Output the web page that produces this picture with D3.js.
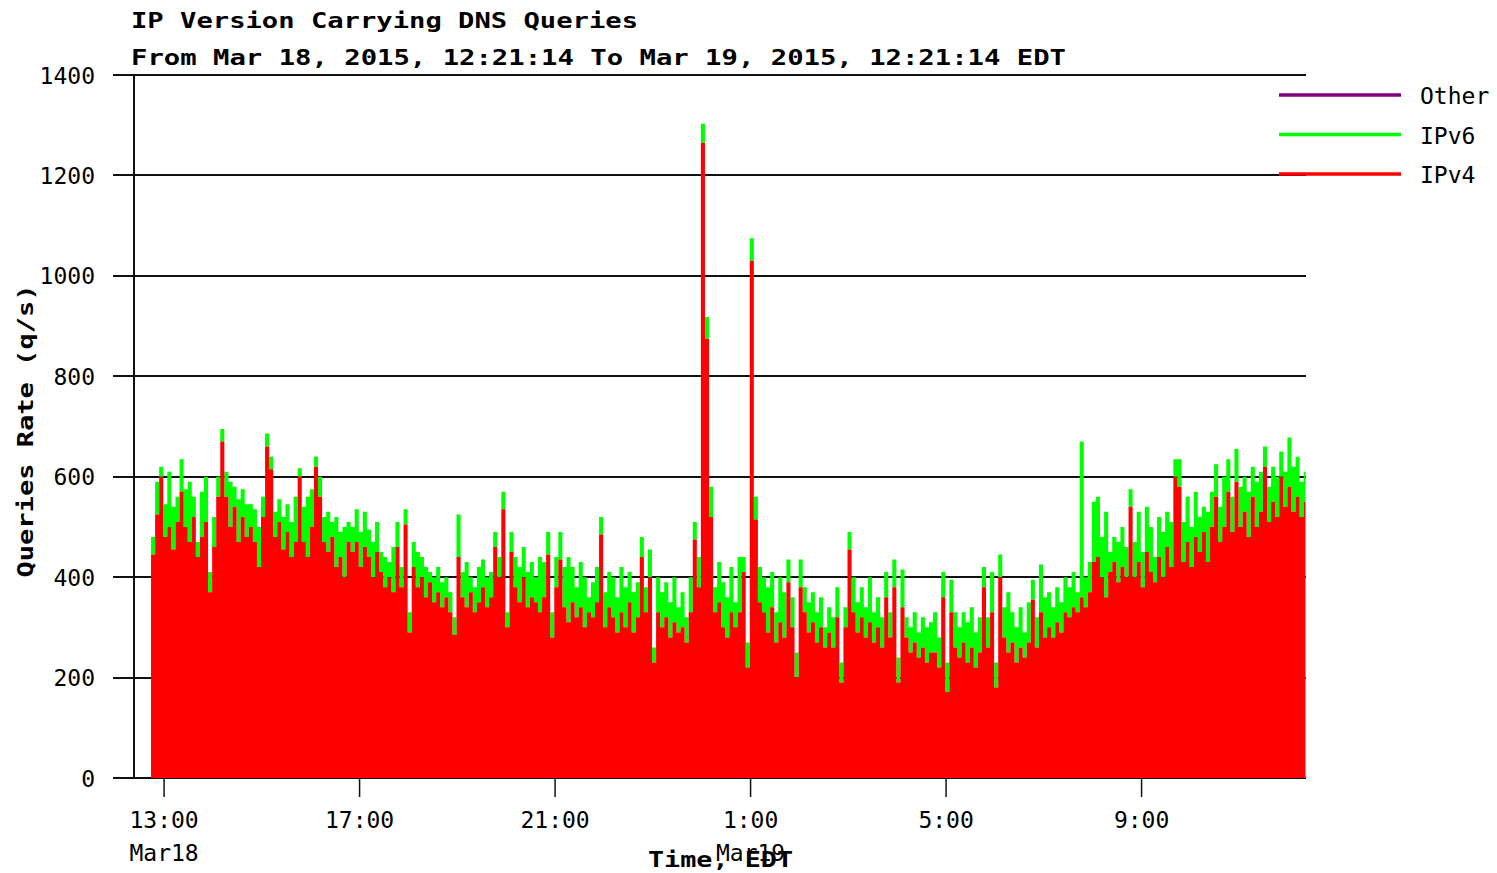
<!DOCTYPE html>
<html><head><meta charset="utf-8">
<script src="https://cdn.jsdelivr.net/npm/d3@7"></script>
<style>
body{margin:0;background:#fff}
svg{display:block}
text{font-family:"DejaVu Sans Mono","Liberation Mono",monospace;fill:#000}
</style>
</head><body>
<svg id="chart" width="1497" height="873"></svg>
<script>
// ---------- data ----------
const titleLines = ["IP Version Carrying DNS Queries", "From Mar 18, 2015, 12:21:14 To Mar 19, 2015, 12:21:14 EDT"];
const yAxisTitle = "Queries Rate (q/s)";
const xAxisTitle = "Time, EDT";
const rangeStart = new Date(2015, 2, 18, 12, 21, 14);
const rangeEnd = new Date(2015, 2, 19, 12, 21, 14);
const firstSample = new Date(2015, 2, 18, 12, 44, 0);
const stepMinutes = 5;

// IPv4 queries/s (5-minute samples)
const ipv4 = [
  445,525,600,480,500,455,510,570,500,470,520,440,
  480,510,370,460,560,670,560,500,540,470,520,480,
  500,470,420,520,660,615,480,510,455,490,440,470,
  600,470,440,500,620,560,470,450,480,420,440,400,
  470,450,470,420,460,440,400,450,410,380,400,370,
  460,380,505,290,420,380,400,360,390,350,370,340,
  360,330,285,440,360,340,370,330,350,380,340,360,
  460,400,535,300,450,380,350,400,340,360,350,330,
  360,445,280,380,435,340,310,350,320,340,300,330,
  320,350,485,300,340,320,290,330,300,350,290,320,
  440,330,400,230,330,300,320,280,310,290,300,270,
  330,475,380,1265,875,520,330,350,300,280,330,300,
  330,410,220,1030,515,350,330,290,340,270,310,280,
  390,300,200,380,330,290,310,270,300,260,290,260,
  320,190,300,455,330,290,320,280,310,270,300,260,
  360,280,380,190,340,280,250,270,240,260,230,250,
  250,220,360,172,330,260,240,270,230,260,220,250,
  380,260,330,180,400,280,250,270,230,260,240,270,
  355,260,330,280,300,280,310,290,330,320,340,330,
  360,340,370,430,440,400,360,410,430,390,420,400,
  540,400,430,380,450,410,390,440,400,460,420,600,
  580,430,470,420,480,450,490,430,500,560,470,500,
  570,490,590,500,530,480,560,500,530,620,510,550,
  520,600,540,580,530,560,520,550
];
// IPv6 queries/s, stacked on IPv4
const ipv6 = [
  35,65,20,65,110,85,50,65,75,120,40,30,
  90,90,40,60,40,25,50,90,40,85,55,65,
  45,65,80,40,26,25,50,45,65,55,70,90,
  17,70,120,75,20,40,50,80,30,100,50,100,
  40,50,65,70,70,55,70,60,40,60,30,90,
  50,40,30,40,50,70,40,60,20,50,50,50,
  40,40,35,85,50,90,30,50,70,55,60,50,
  30,40,35,30,40,60,70,60,70,70,50,110,
  70,45,50,60,55,80,130,70,60,90,100,30,
  70,70,35,70,70,80,70,90,80,60,80,70,
  40,50,55,30,70,70,70,70,90,50,70,50,
  70,35,60,38,43,60,50,80,90,80,90,50,
  110,30,50,45,45,70,70,90,70,60,90,90,
  45,60,50,55,50,60,60,60,60,40,50,60,
  60,40,40,35,70,60,60,60,90,60,60,60,
  50,50,55,50,75,40,50,60,50,60,70,60,
  80,60,50,58,65,70,60,60,80,80,70,70,
  40,60,80,50,45,60,120,60,70,80,50,80,
  40,60,95,80,70,60,70,60,70,60,70,40,
  310,60,60,120,120,80,170,40,50,80,80,60,
  35,70,100,70,90,90,50,80,90,70,90,35,
  55,80,90,80,90,70,50,100,70,65,70,100,
  65,70,65,80,70,90,60,90,80,40,70,70,
  80,50,70,98,90,80,70,60
];

const yTicks = [0, 200, 400, 600, 800, 1000, 1200, 1400];
const xTickTimes = [
  new Date(2015, 2, 18, 13), new Date(2015, 2, 18, 17), new Date(2015, 2, 18, 21),
  new Date(2015, 2, 19, 1), new Date(2015, 2, 19, 5), new Date(2015, 2, 19, 9)
];
const xTickLabels = ["13:00", "17:00", "21:00", "1:00", "5:00", "9:00"];
const xDateLabels = ["Mar18", "", "", "Mar19", "", ""];
const legendNames = ["Other", "IPv6", "IPv4"];
const legendColors = ["#800080", "#00ff00", "#ff0000"];

// ---------- chart ----------
const svg = d3.select("#chart");
const x = d3.scaleTime().domain([rangeStart, rangeEnd]).range([132.5, 1305.5]);
const y = d3.scaleLinear().domain([0, 1400]).range([778, 75]);

const samples = ipv4.map((v, i) => ({
  t: new Date(firstSample.getTime() + i * stepMinutes * 60000),
  v4: v, v6: ipv6[i]
}));
const last = samples[samples.length - 1];
samples.push({t: new Date(last.t.getTime() + stepMinutes * 60000), v4: last.v4, v6: last.v6});

// grid lines (behind data)
svg.append("g").selectAll("line").data(yTicks).join("line")
  .attr("x1", 113).attr("x2", 1306)
  .attr("y1", d => Math.round(y(d))).attr("y2", d => Math.round(y(d)))
  .attr("stroke", "#111").attr("stroke-width", 2);

svg.append("clipPath").attr("id", "plotclip").append("rect")
  .attr("x", 134).attr("y", 60).attr("width", 1305.5 - 134).attr("height", 720);

const gData = svg.append("g").attr("clip-path", "url(#plotclip)");
const areaV4 = d3.area().curve(d3.curveStepAfter)
  .x(d => x(d.t)).y0(y(0)).y1(d => y(d.v4));
const areaV6 = d3.area().curve(d3.curveStepAfter)
  .x(d => x(d.t)).y0(d => y(d.v4)).y1(d => y(d.v4 + d.v6));
gData.append("path").datum(samples).attr("d", areaV6).attr("fill", "#00ff00");
gData.append("path").datum(samples).attr("d", areaV4).attr("fill", "#ff0000");

// y axis line
svg.append("line").attr("x1", 134).attr("x2", 134).attr("y1", 74).attr("y2", 779)
  .attr("stroke", "#111").attr("stroke-width", 2);

// y tick labels
svg.append("g").selectAll("text").data(yTicks).join("text")
  .attr("x", 95).attr("y", d => y(d) + 8.5)
  .attr("text-anchor", "end")
  .style("font-size", "23px")
  .text(d => d);

// x ticks
svg.append("g").selectAll("line").data(xTickTimes).join("line")
  .attr("x1", d => x(d)).attr("x2", d => x(d))
  .attr("y1", 779).attr("y2", 797)
  .attr("stroke", "#111").attr("stroke-width", 1.5);
svg.append("g").selectAll("text").data(xTickTimes).join("text")
  .attr("x", d => x(d)).attr("y", 828)
  .attr("text-anchor", "middle")
  .style("font-size", "23px")
  .text((d, i) => xTickLabels[i]);
svg.append("g").selectAll("text").data(xTickTimes).join("text")
  .attr("x", d => x(d)).attr("y", 861)
  .attr("text-anchor", "middle")
  .style("font-size", "23px")
  .text((d, i) => xDateLabels[i]);

// titles
svg.append("text").attr("x", 131).attr("y", 28)
  .style("font-size", "22px").style("font-weight", "bold")
  .attr("textLength", 507).attr("lengthAdjust", "spacingAndGlyphs")
  .text(titleLines[0]);
svg.append("text").attr("x", 131).attr("y", 65)
  .style("font-size", "22px").style("font-weight", "bold")
  .attr("textLength", 935).attr("lengthAdjust", "spacingAndGlyphs")
  .text(titleLines[1]);

svg.append("text").attr("transform", "translate(33,431) rotate(-90)")
  .attr("text-anchor", "middle")
  .style("font-size", "22px").style("font-weight", "bold")
  .attr("textLength", 293).attr("lengthAdjust", "spacingAndGlyphs")
  .text(yAxisTitle);

svg.append("text").attr("x", 720.5).attr("y", 867)
  .attr("text-anchor", "middle")
  .style("font-size", "22px").style("font-weight", "bold")
  .attr("textLength", 145).attr("lengthAdjust", "spacingAndGlyphs")
  .text(xAxisTitle);

// legend
const lg = svg.append("g").selectAll("g").data(legendNames).join("g")
  .attr("transform", (d, i) => `translate(0,${95 + i * 39.5})`);
lg.append("line").attr("x1", 1279).attr("x2", 1401).attr("y1", 0).attr("y2", 0)
  .attr("stroke", (d, i) => legendColors[i]).attr("stroke-width", 3.5);
lg.append("text").attr("x", 1420).attr("y", 9)
  .style("font-size", "23px")
  .text(d => d);
</script>
</body></html>
